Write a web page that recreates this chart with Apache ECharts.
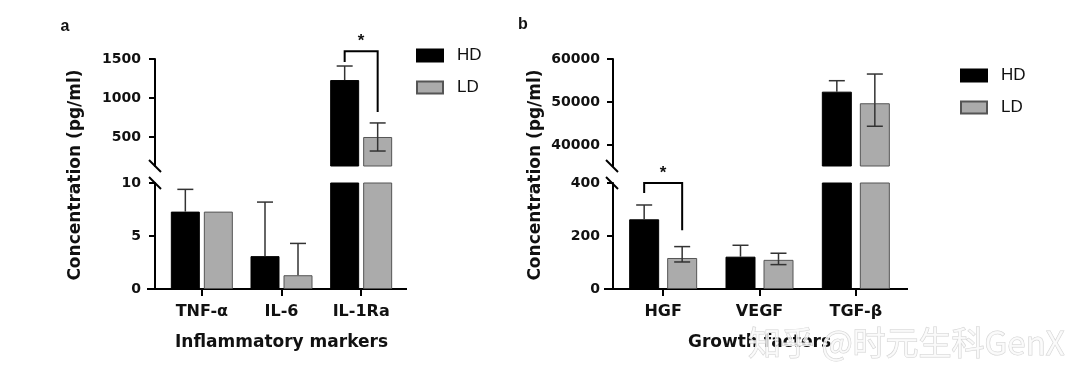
<!DOCTYPE html>
<html><head><meta charset="utf-8">
<script src="https://cdn.jsdelivr.net/npm/echarts@6/dist/echarts.min.js"></script>
<style>html,body{margin:0;padding:0;background:#fff}#c{width:1092px;height:383px}</style>
</head><body><div id="c"></div>
<script>
// ---------- data ----------
const catsA = ['TNF-α', 'IL-6', 'IL-1Ra'];
const hdA = [7.3, 3.1, 1230];
const ldA = [7.3, 1.3, 500];
const hdAErrUp = [2.1, 5.1, 180];
const hdAErrLow = [0, 0, 0];
const ldAErrUp = [0, 3.0, 180];
const ldAErrLow = [0, 0, 180];

const catsB = ['HGF', 'VEGF', 'TGF-β'];
const hdB = [263, 122, 52400];
const ldB = [117, 110, 49700];
const hdBErrUp = [54, 43, 2550];
const hdBErrLow = [0, 0, 0];
const ldBErrUp = [43, 25, 6800];
const ldBErrLow = [15, 18, 5350];

const ticksATop = [500, 1000, 1500];
const ticksABottom = [0, 5, 10];
const ticksBTop = [40000, 50000, 60000];
const ticksBBottom = [0, 200, 400];

// significance brackets: [categoryIndex, leftLegBottom, rightLegBottom, top]
const bracketA = [2, 1460, 820, 1600];
const bracketB = [0, 362, 222, 400];

// ---------- style ----------
const FB = '"DejaVu Sans", Arial, sans-serif';
const FL = 'Arial, "Liberation Sans", Helvetica, sans-serif';
const chart = echarts.init(document.getElementById('c'), null, {renderer: 'canvas'});

const G = [
  {left: 162, top: 59, width: 239, height: 107},
  {left: 162, top: 183, width: 239, height: 106},
  {left: 615, top: 59, width: 289, height: 107},
  {left: 615, top: 183, width: 289, height: 106}
];
const barW = [29, 29, 30, 30];
const barGapPx = [4, 4, 8, 8];

function yAx(gi, min, max, ticks, offset, margin) {
  return {
    type: 'value', gridIndex: gi, min: min, max: max, offset: offset,
    splitLine: {show: false},
    axisLine: {show: true, lineStyle: {color: '#000', width: 2}},
    axisTick: {show: true, length: 6, lineStyle: {color: '#000', width: 2}, customValues: ticks},
    axisLabel: {customValues: ticks, formatter: v => String(v), fontFamily: FB, fontWeight: 'bold', fontSize: 14, color: '#111', margin: margin}
  };
}
function xAx(gi, cats, show, name) {
  return {
    type: 'category', gridIndex: gi, data: cats, show: show,
    axisLine: {show: true, lineStyle: {color: '#000', width: 2}},
    axisTick: {show: true, alignWithLabel: true, length: 7, lineStyle: {color: '#000', width: 2}},
    axisLabel: {fontFamily: FB, fontWeight: 'bold', fontSize: 16, color: '#111', margin: 15},
    name: name, nameLocation: 'middle', nameGap: 45,
    nameTextStyle: {fontFamily: FB, fontWeight: 'bold', fontSize: 17, color: '#111'}
  };
}

const series = [];
function addBars(gi, hd, ld) {
  series.push({
    name: 'HD', type: 'bar', xAxisIndex: gi, yAxisIndex: gi, data: hd,
    barWidth: barW[gi], barGap: (barGapPx[gi] / barW[gi] * 100) + '%',
    itemStyle: {color: '#000', borderColor: '#000', borderWidth: 1}, clip: true, z: 2
  });
  series.push({
    name: 'LD', type: 'bar', xAxisIndex: gi, yAxisIndex: gi, data: ld,
    barWidth: barW[gi], barGap: (barGapPx[gi] / barW[gi] * 100) + '%',
    itemStyle: {color: '#ababab', borderColor: '#555', borderWidth: 1}, clip: true, z: 2
  });
}
function addErr(gi, vals, up, low, side) {
  const off = side * (barW[gi] + barGapPx[gi]) / 2;
  series.push({
    type: 'custom', xAxisIndex: gi, yAxisIndex: gi, clip: true, z: 5, silent: true,
    data: vals.map((v, i) => [i, v, up[i], low[i]]),
    encode: {x: 0, y: 1},
    renderItem: function (params, api) {
      const ci = api.value(0), v = api.value(1), u = api.value(2), l = api.value(3);
      const c = api.coord([ci, v]);
      const x = c[0] + off;
      const ch = [];
      const col = '#333';
      const cap = 8;
      if (u > 0) {
        const yu = api.coord([ci, v + u])[1];
        ch.push({type: 'line', shape: {x1: x, y1: c[1], x2: x, y2: yu}, style: {stroke: col, lineWidth: 1.5}});
        ch.push({type: 'line', shape: {x1: x - cap, y1: yu, x2: x + cap, y2: yu}, style: {stroke: col, lineWidth: 1.5}});
      }
      if (l > 0) {
        const yl = api.coord([ci, v - l])[1];
        ch.push({type: 'line', shape: {x1: x, y1: c[1], x2: x, y2: yl}, style: {stroke: col, lineWidth: 1.5}});
        ch.push({type: 'line', shape: {x1: x - cap, y1: yl, x2: x + cap, y2: yl}, style: {stroke: col, lineWidth: 1.5}});
      }
      return {type: 'group', children: ch};
    }
  });
}
function addBracket(gi, b) {
  const off = (barW[gi] + barGapPx[gi]) / 2;
  series.push({
    type: 'custom', xAxisIndex: gi, yAxisIndex: gi, clip: false, z: 6, silent: true,
    data: [b], encode: {x: 0, y: 3},
    renderItem: function (params, api) {
      const ci = api.value(0);
      const cx = api.coord([ci, api.value(3)]);
      const x1 = cx[0] - off, x2 = cx[0] + off, yt = cx[1];
      const yl = api.coord([ci, api.value(1)])[1];
      const yr = api.coord([ci, api.value(2)])[1];
      return {type: 'group', children: [
        {type: 'polyline', shape: {points: [[x1, yl], [x1, yt], [x2, yt], [x2, yr]]}, style: {stroke: '#000', lineWidth: 2, fill: null}},
        {type: 'text', style: {text: '*', x: (x1 + x2) / 2, y: yt - 1, textAlign: 'center', textVerticalAlign: 'bottom', font: 'bold 17px ' + FL, fill: '#111'}}
      ]};
    }
  });
}

addBars(0, hdA, ldA); addBars(1, hdA, ldA); addBars(2, hdB, ldB); addBars(3, hdB, ldB);
[0, 1].forEach(gi => { addErr(gi, hdA, hdAErrUp, hdAErrLow, -1); addErr(gi, ldA, ldAErrUp, ldAErrLow, 1); });
[2, 3].forEach(gi => { addErr(gi, hdB, hdBErrUp, hdBErrLow, -1); addErr(gi, ldB, ldBErrUp, ldBErrLow, 1); });
addBracket(0, bracketA);
addBracket(3, bracketB);

function slash(x, y) {
  return {type: 'line', shape: {x1: x - 6, y1: y - 6, x2: x + 6, y2: y + 6}, style: {stroke: '#000', lineWidth: 2}, z: 10};
}
function hline(x1, x2, y) {
  return {type: 'line', shape: {x1: x1, y1: y, x2: x2, y2: y}, style: {stroke: '#000', lineWidth: 2}, z: 10};
}
function txt(x, y, s, font, rot) {
  return {type: 'text', x: x, y: y, rotation: rot || 0, z: 10,
    style: {text: s, font: font, fill: '#111', textAlign: 'center', textVerticalAlign: 'middle'}};
}
function legend(left, top) {
  return {data: ['HD', 'LD'], orient: 'vertical', left: left, top: top, itemWidth: 26, itemHeight: 12, itemGap: 15, icon: 'rect',
    textStyle: {fontFamily: FL, fontSize: 17, color: '#111', padding: [0, 0, 0, 9]}, selectedMode: false};
}

const option = {
  animation: false,
  backgroundColor: '#fff',
  grid: G,
  xAxis: [xAx(0, catsA, false, ''), xAx(1, catsA, true, 'Inflammatory markers'), xAx(2, catsB, false, ''), xAx(3, catsB, true, 'Growth factors')],
  yAxis: [
    yAx(0, 128, 1500, ticksATop, 7, 14),
    yAx(1, 0, 10, ticksABottom, 7, 14),
    yAx(2, 35100, 60000, ticksBTop, 2, 13),
    yAx(3, 0, 400, ticksBBottom, 2, 13)
  ],
  legend: [legend(411, 42), legend(955, 62)],
  series: series,
  graphic: [
    txt(65, 27, 'a', 'bold 16px ' + FL),
    txt(523, 25, 'b', 'bold 16px ' + FL),
    txt(76, 175, 'Concentration (pg/ml)', 'bold 17px ' + FB, Math.PI / 2),
    txt(536, 175, 'Concentration (pg/ml)', 'bold 17px ' + FB, Math.PI / 2),
    slash(155, 166), slash(155, 183), slash(612, 166), slash(612, 183),
    hline(147, 162, 289), hline(401, 407, 289), hline(604, 615, 289), hline(904, 908, 289),
    {type: 'text', x: 748, y: 342, z: 20,
      style: {text: '知乎 @时元生科GenX', font: '33px "Noto Sans CJK SC", sans-serif', fill: 'rgba(250,250,250,0.8)', stroke: '#d2d2d2', lineWidth: 1, textAlign: 'left', textVerticalAlign: 'middle'}}
  ]
};
chart.setOption(option);
</script>
</body></html>
